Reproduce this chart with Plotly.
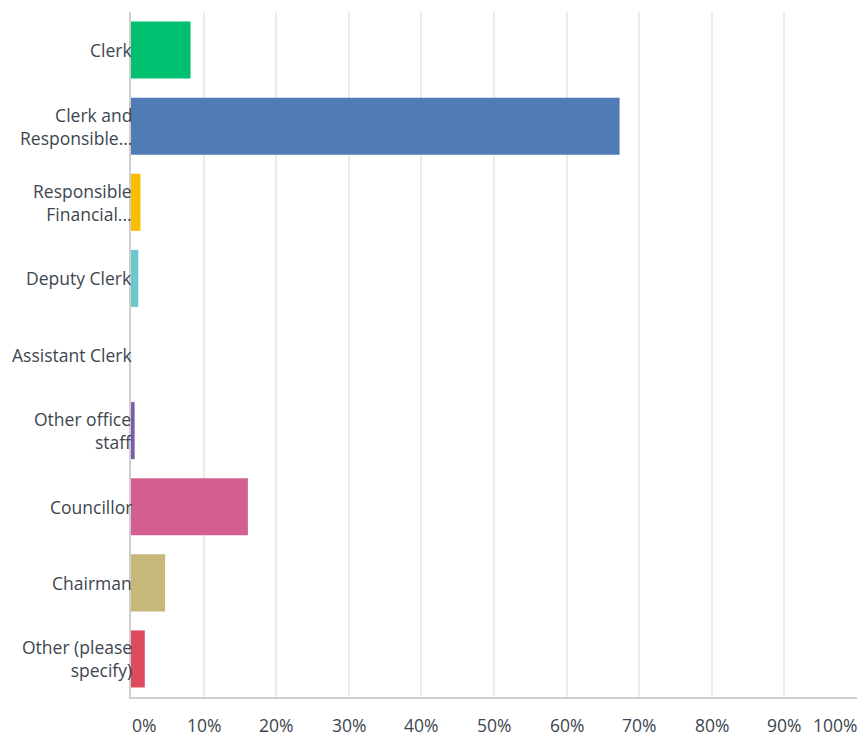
import plotly.graph_objects as go

# Answer options (two-line labels are wrapped and truncated as displayed)
categories = [
    "Clerk",
    "Clerk and<br>Responsible...",
    "Responsible<br>Financial...",
    "Deputy Clerk",
    "Assistant Clerk",
    "Other office<br>staff",
    "Councillor",
    "Chairman",
    "Other (please<br>specify)",
]
# Share of respondents, in percent
values = [8.2, 67.3, 1.3, 1.0, 0.0, 0.5, 16.1, 4.7, 1.9]
bar_colors = [
    "#00bf6f", "#507cb6", "#f9be00", "#6bc8cd", "#96a4b0",
    "#7d5ba6", "#d25f90", "#c7b879", "#de4b5e",
]
tick_values = [0, 10, 20, 30, 40, 50, 60, 70, 80, 90, 100]
tick_labels = ["0%", "10%", "20%", "30%", "40%", "50%", "60%", "70%", "80%", "90%", "100%"]

FONT = "Open Sans, Arial, sans-serif"
TEXT_COLOR = "#3d4650"
FONT_SIZE = 17.5

fig = go.Figure(
    go.Bar(
        x=values,
        y=categories,
        orientation="h",
        marker=dict(color=bar_colors, line=dict(width=0)),
        hovertemplate="%{y}: %{x:.2f}%<extra></extra>",
    )
)

annotations = []
# Category labels, right-aligned against the zero line
for cat in categories:
    annotations.append(dict(
        x=0, xref="paper", y=cat, yref="y",
        text=cat, showarrow=False, xanchor="right", yanchor="middle",
        align="right", xshift=2, borderpad=0,
        font=dict(family=FONT, size=FONT_SIZE, color=TEXT_COLOR),
    ))
# Percentage tick labels under the axis; end labels kept inside the frame
for i, (tv, tl) in enumerate(zip(tick_values, tick_labels)):
    anchor = "left" if i == 0 else ("right" if i == len(tick_values) - 1 else "center")
    annotations.append(dict(
        x=tv, xref="x", y=0, yref="paper",
        text=tl, showarrow=False, xanchor=anchor, yanchor="middle",
        yshift=-28, xshift=(2 if anchor == "right" else 0), borderpad=0,
        font=dict(family=FONT, size=FONT_SIZE, color=TEXT_COLOR),
    ))

fig.update_layout(
    width=859,
    height=736,
    margin=dict(l=131, r=2, t=12, b=39),
    paper_bgcolor="white",
    plot_bgcolor="white",
    bargap=0.25,
    showlegend=False,
    annotations=annotations,
    xaxis=dict(
        range=[0, 100],
        tickvals=tick_values,
        showticklabels=False,
        showgrid=True,
        gridcolor="#ececec",
        gridwidth=2,
        zeroline=False,
        showline=True,
        linecolor="#cfcfcf",
        linewidth=2,
        mirror=False,
        fixedrange=True,
    ),
    yaxis=dict(
        categoryorder="array",
        categoryarray=categories,
        autorange="reversed",
        showticklabels=False,
        showgrid=False,
        zeroline=False,
        showline=True,
        linecolor="#cfcfcf",
        linewidth=2,
        fixedrange=True,
    ),
)

fig.write_html("out.html")
